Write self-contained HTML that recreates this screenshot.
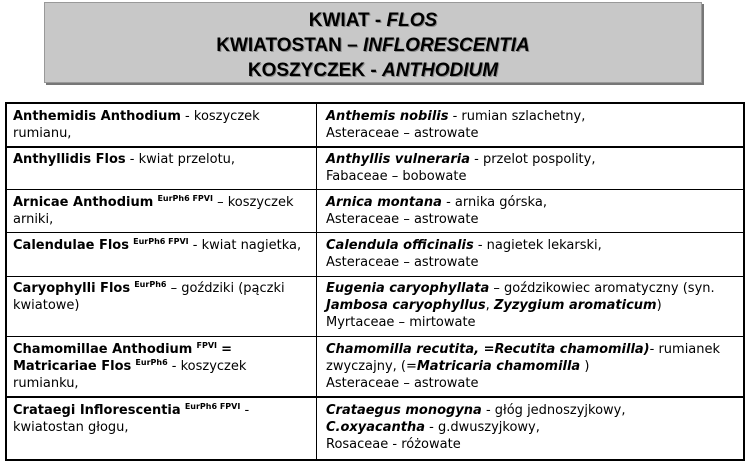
<!DOCTYPE html>
<html><head><meta charset="utf-8"><style>
body{margin:0;width:748px;height:464px;background:#fff;position:relative;overflow:hidden;font-family:"DejaVu Sans","Liberation Sans",sans-serif;}
.hdr{position:absolute;left:44px;top:2px;width:658px;height:81px;background:#c8c8c8;box-shadow:2px 2px 0 #777;border:1px solid #999;text-align:center;font-family:"Liberation Sans",Arial,sans-serif;font-weight:bold;font-size:19px;line-height:25px;padding-top:5px;box-sizing:border-box;color:#000;text-shadow:1px 1px 0 #888;}
.tbl{position:absolute;left:5px;top:102px;width:740px;height:359px;border:2px solid #000;box-sizing:border-box;}
.vl{position:absolute;left:316px;top:102px;width:1px;height:359px;background:#000;}
.hl{position:absolute;left:5px;width:740px;height:1px;background:#000;}
.c{position:absolute;font-size:13px;line-height:17px;color:#000;white-space:nowrap;}
.l{left:13px;}.r{left:326px;}
sup{font-size:8px;font-weight:bold;vertical-align:5px;line-height:0;}
</style></head><body>
<div class="hdr">KWIAT - <i>FLOS</i><br>KWIATOSTAN – <i>INFLORESCENTIA</i><br>KOSZYCZEK - <i>ANTHODIUM</i></div>
<div class="tbl"></div>
<div class="vl"></div>
<div class="hl" style="top:146px;height:2px"></div>
<div class="hl" style="top:189px"></div>
<div class="hl" style="top:232px"></div>
<div class="hl" style="top:276px"></div>
<div class="hl" style="top:336px"></div>
<div class="hl" style="top:396px;height:2px"></div>

<div class="c l" style="top:108px"><b>Anthemidis Anthodium</b> - koszyczek<br>rumianu,</div>
<div class="c r" style="top:108px"><b><i>Anthemis nobilis</i></b> - rumian szlachetny,<br>Asteraceae – astrowate</div>

<div class="c l" style="top:151px"><b>Anthyllidis Flos</b> - kwiat przelotu,</div>
<div class="c r" style="top:151px"><b><i>Anthyllis vulneraria</i></b> - przelot pospolity,<br>Fabaceae – bobowate</div>

<div class="c l" style="top:194px"><b>Arnicae Anthodium</b> <sup>EurPh6 FPVI</sup> – koszyczek<br>arniki,</div>
<div class="c r" style="top:194px"><b><i>Arnica montana</i></b> - arnika górska,<br>Asteraceae – astrowate</div>

<div class="c l" style="top:237px"><b>Calendulae Flos</b> <sup>EurPh6 FPVI</sup> - kwiat nagietka,</div>
<div class="c r" style="top:237px"><b><i>Calendula officinalis</i></b> - nagietek lekarski,<br>Asteraceae – astrowate</div>

<div class="c l" style="top:280px"><b>Caryophylli Flos</b> <sup>EurPh6</sup> – goździki (pączki<br>kwiatowe)</div>
<div class="c r" style="top:280px"><b><i>Eugenia caryophyllata</i></b> – goździkowiec aromatyczny (syn.<br><b><i>Jambosa caryophyllus</i></b>, <b><i>Zyzygium aromaticum</i></b>)<br>Myrtaceae – mirtowate</div>

<div class="c l" style="top:341px"><b>Chamomillae Anthodium</b> <sup>FPVI</sup> <b>=</b><br><b>Matricariae Flos</b> <sup>EurPh6</sup> - koszyczek<br>rumianku,</div>
<div class="c r" style="top:341px"><b><i>Chamomilla recutita, =Recutita chamomilla)</i></b>- rumianek<br>zwyczajny, (=<b><i>Matricaria chamomilla</i></b> )<br>Asteraceae – astrowate</div>

<div class="c l" style="top:402px"><b>Crataegi Inflorescentia</b> <sup>EurPh6 FPVI</sup> -<br>kwiatostan głogu,</div>
<div class="c r" style="top:402px"><b><i>Crataegus monogyna</i></b> - głóg jednoszyjkowy,<br><b><i>C.oxyacantha</i></b> - g.dwuszyjkowy,<br>Rosaceae - różowate</div>
</body></html>
